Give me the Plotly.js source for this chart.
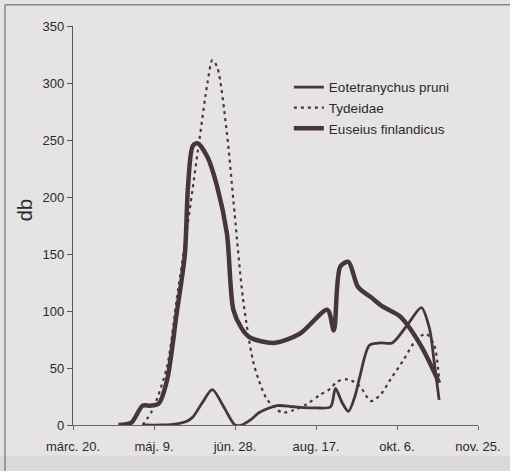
<!DOCTYPE html>
<html><head><meta charset="utf-8">
<script src="https://cdn.plot.ly/plotly-3.0.1.min.js"></script>
<style>html,body{margin:0;padding:0;background:#e5e3e4}</style>
</head><body>
<div id="chart" style="width:510px;height:471px"></div>
<script>
// x values: days after márc. 20
const tickDays = [0, 50, 100, 150, 200, 250];
const tickLabels = ['márc. 20.', 'máj. 9.', 'jún. 28.', 'aug. 17.', 'okt. 6.', 'nov. 25.'];

const eotetranychusDays = [43, 55, 64, 70, 74, 80, 86, 93, 100, 104, 110, 115, 126, 136, 150, 159, 162, 166, 170, 174, 177, 183, 190, 197, 207, 215, 220, 223, 226];
const eotetranychusVals = [0, 0, 1, 3, 7, 20, 31, 16, 0, 0, 5, 11, 17, 16, 15, 16, 32, 20, 12, 25, 42, 70, 72, 72, 89, 103, 85, 55, 22];

const tydeidaeDays = [43, 49, 58, 64, 70, 78, 83, 86, 89, 95, 99, 105, 111, 115, 120, 129, 136, 144, 152, 159, 163, 170, 177, 184, 190, 196, 204, 212, 218, 223, 226];
const tydeidaeVals = [0, 13, 51, 110, 168, 250, 300, 320, 314, 256, 197, 110, 57, 38, 22, 11, 13, 18, 26, 32, 38, 40, 34, 21, 27, 40, 57, 75, 80, 70, 40];

const euseiusDays = [28, 36, 43, 48, 53, 58, 64, 69, 71, 74, 77, 83, 89, 95, 99, 104, 109, 124, 140, 157, 161, 165, 170, 176, 184, 191, 202, 215, 226];
const euseiusVals = [0, 2, 17, 17, 19, 39, 98, 149, 209, 245, 247, 235, 209, 168, 101, 85, 77, 72, 80, 101, 83, 139, 143, 121, 112, 104, 95, 69, 37];

const yTitle = 'db';

const ink = '#46363a';
const traces = [
  {x: eotetranychusDays, y: eotetranychusVals, name: 'Eotetranychus pruni', mode: 'lines',
   line: {color: ink, width: 2.8, shape: 'spline', smoothing: 0.8}},
  {x: tydeidaeDays, y: tydeidaeVals, name: 'Tydeidae', mode: 'lines',
   line: {color: ink, width: 2.2, dash: '3px,4px', shape: 'spline', smoothing: 0.8}},
  {x: euseiusDays, y: euseiusVals, name: 'Euseius finlandicus', mode: 'lines',
   line: {color: ink, width: 4.5, shape: 'spline', smoothing: 0.8}}
];

const layout = {
  width: 510, height: 471,
  paper_bgcolor: '#e5e3e4', plot_bgcolor: '#e5e3e4',
  margin: {l: 73, r: 32, t: 26, b: 46},
  font: {family: 'Liberation Sans, Arial, sans-serif', size: 13, color: '#2a2a2a'},
  showlegend: true,
  legend: {x: 0.533, y: 0.885, xanchor: 'left', yanchor: 'top', bgcolor: 'rgba(0,0,0,0)',
           font: {size: 13.5, color: '#2a2a2a'}, tracegroupgap: 0},
  xaxis: {range: [0, 250], tickvals: tickDays, ticktext: tickLabels, showgrid: false, zeroline: false,
          showline: true, linecolor: '#6a6668', linewidth: 1.2, ticks: 'outside', ticklen: 4, tickcolor: '#6a6668',
          ticklabelstandoff: 5,
          tickfont: {size: 13, color: '#2a2a2a'}, fixedrange: true},
  yaxis: {range: [0, 350], dtick: 50, showgrid: false, zeroline: false,
          showline: true, linecolor: '#5a5658', linewidth: 1.2, ticks: 'outside', ticklen: 5, tickcolor: '#5a5658',
          tickfont: {size: 13, color: '#2a2a2a'}, fixedrange: true},
  annotations: [
    {text: yTitle, xref: 'paper', yref: 'paper', x: -0.118, y: 0.539, xanchor: 'center', yanchor: 'middle',
     textangle: -90, showarrow: false, font: {size: 20, color: '#2a2a2a'}}
  ],
  shapes: [
    {type: 'rect', xref: 'paper', yref: 'paper', x0: -0.2, x1: 1.1, y0: -0.077, y1: -0.2,
     fillcolor: '#dad8d9', line: {width: 0}, layer: 'below'},
    {type: 'line', xref: 'paper', yref: 'paper', x0: -0.168, x1: -0.168, y0: -0.13, y1: 1.053,
     line: {color: '#8a8688', width: 1.5}},
    {type: 'line', xref: 'paper', yref: 'paper', x0: -0.168, x1: 1.08, y0: 1.053, y1: 1.053,
     line: {color: '#8a8688', width: 1.5}}
  ]
};
Plotly.newPlot('chart', traces, layout, {displayModeBar: false, staticPlot: true});
</script>
</body></html>
